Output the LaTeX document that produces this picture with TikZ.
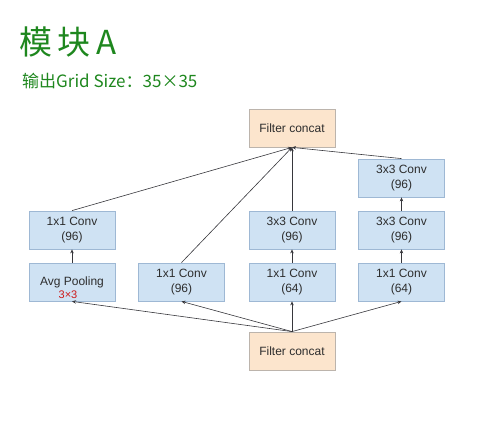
\documentclass[tikz,border=0pt]{standalone}
\usepackage{fontspec}
\setmainfont{Liberation Sans}
\newfontfamily\cjk{Noto Sans CJK SC}
\usetikzlibrary{arrows.meta}
\definecolor{convblue}{RGB}{207,226,243}
\definecolor{convedge}{RGB}{158,184,212}
\definecolor{concatorange}{RGB}{252,229,205}
\definecolor{concatedge}{RGB}{188,180,172}
\definecolor{inkgreen}{RGB}{30,135,30}
\definecolor{inkred}{RGB}{205,25,25}
\definecolor{linegray}{RGB}{55,55,60}
\definecolor{textgray}{RGB}{45,45,45}

\begin{document}
\begin{tikzpicture}[x=1pt,y=-1pt,
  convbox/.style={draw=convedge,line width=0.8pt,fill=convblue,minimum width=86pt,minimum height=38pt,inner sep=0pt,align=center,font=\fontsize{12}{15}\selectfont,text=textgray},
  catbox/.style={convbox,draw=concatedge,fill=concatorange},
  ar/.style={-{Stealth[length=4pt,width=3.5pt]},line width=0.6pt,linegray}
]
\useasboundingbox (0,0) rectangle (499,422);

% TITLE: handwritten notes
\node[anchor=west,inner sep=0pt,text=inkgreen,font=\cjk\fontsize{33}{33}\selectfont] (title) at (19,42) {模\,块\,A};
\node[anchor=west,inner sep=0pt,text=inkgreen,font=\cjk\fontsize{17}{17}\selectfont] (grid) at (22,81) {输出Grid Size：35×35};

% TOP and BOTTOM: concat layers
\node[catbox] (top) at (292,128) {Filter concat};
\node[catbox] (base) at (292,351) {Filter concat};

% ROWS: branch blocks
\node[convbox] (p1) at (72,282) {Avg Pooling};
\node[convbox] (c1) at (72,230) {1x1 Conv\\(96)};
\node[convbox] (b2) at (181.5,282) {1x1 Conv\\(96)};
\node[convbox] (b3) at (292,282) {1x1 Conv\\(64)};
\node[convbox] (c3) at (292,230) {3x3 Conv\\(96)};
\node[convbox] (b4) at (401.5,282) {1x1 Conv\\(64)};
\node[convbox] (c4) at (401.5,230) {3x3 Conv\\(96)};
\node[convbox] (d4) at (401.5,178) {3x3 Conv\\(96)};
\node[inner sep=0pt,text=inkred,font=\fontsize{11}{11}\selectfont] (pk) at (68,295) {3×3};

% input fan-out
\draw[ar] (base.north) -- (p1.south);
\draw[ar] (base.north) -- (b2.south);
\draw[ar] (base.north) -- (b3.south);
\draw[ar] (base.north) -- (b4.south);

% inside branches
\draw[ar] (p1) -- (c1);
\draw[ar] (b3) -- (c3);
\draw[ar] (b4) -- (c4);
\draw[ar] (c4) -- (d4);

% output fan-in
\draw[ar] (c1.north) -- (top.south);
\draw[ar] (b2.north) -- (top.south);
\draw[ar] (c3.north) -- (top.south);
\draw[ar] (d4.north) -- (top.south);
\end{tikzpicture}
\end{document}
